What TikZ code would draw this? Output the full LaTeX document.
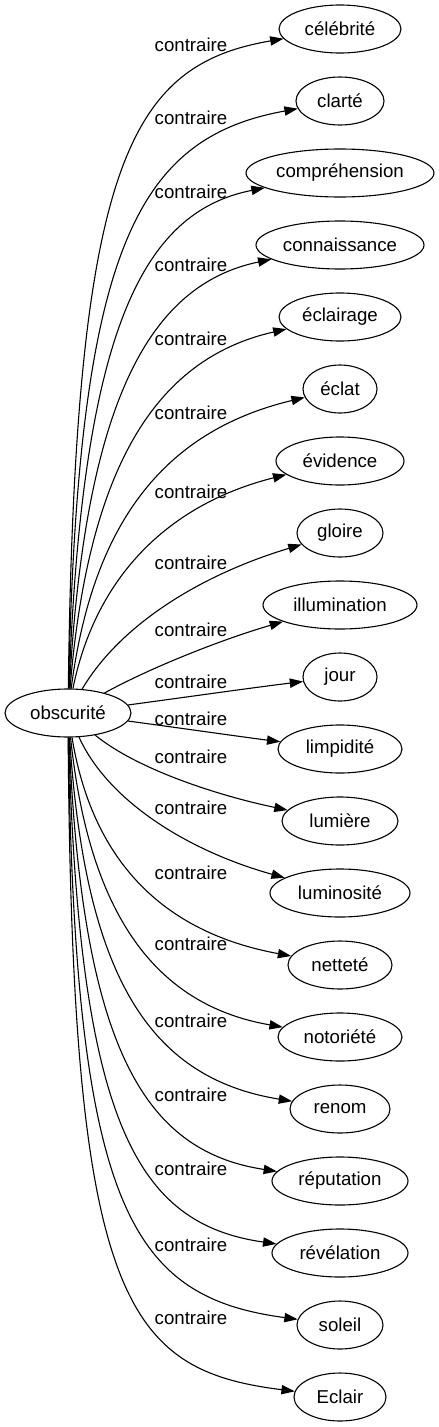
\documentclass[tikz,border=0pt]{standalone}
\usepackage{fontspec}
\setmainfont{Liberation Sans}
\usetikzlibrary{shapes.geometric,arrows.meta}
\tikzset{
  word/.style={draw, ellipse, line width=1.1pt, inner sep=0pt, minimum height=48pt, font=\fontsize{18.67}{20}\selectfont},
  lbl/.style={inner sep=0pt, font=\fontsize{18.67}{20}\selectfont},
  edge/.style={draw, line width=1.1pt, -{Triangle[length=13.3pt,width=9.3pt]}}
}
\begin{document}
\begin{tikzpicture}[x=1pt,y=-1pt]
\useasboundingbox (0,0) rectangle (439,1427);
\node[word, minimum width=126pt] (o) at (68,713) {obscurité};
\foreach \n/\ty/\rx/\txt/\ly/\ax/\ay/\bx/\by in {
  t1/29/61/célébrité/45/75/161/130/65,
  t2/101/44/clarté/118/78/250/136/138,
  t3/173/94/compréhension/192/82/331/142/212,
  t4/245/84/connaissance/265/85/404/148/285,
  t5/317/61/éclairage/339/88/470/154/359,
  t6/389/37/éclat/413/92/528/160/432,
  t7/461/64/évidence/492/95/579/166/505,
  t8/533/43/gloire/563/120/625/200/575,
  t9/605/77/illumination/630/150/668/220/640,
  t10/677/37/jour/682/180/698/250/688,
  t11/749/62/limpidité/719/180/728/250/738,
  t12/821/58/lumière/757/138/770/220/796,
  t13/893/70/luminosité/808/110/805/195/853,
  t14/965/52/netteté/873/92/859/161/932,
  t15/1037/62/notoriété/944/89/914/155/1005,
  t16/1109/50/renom/1021/85/976/149/1078,
  t17/1181/68/réputation/1095/82/1046/143/1151,
  t18/1253/68/révélation/1169/79/1124/137/1224,
  t19/1325/43/soleil/1245/75/1209/131/1297,
  t20/1397/46/Eclair/1318/72/1301/125/1370}{
  \node[word, minimum width=2*\rx pt] (\n) at (340,\ty) {\txt};
  \node[lbl] (l\n) at (191,\ly) {contraire};
  \draw[edge] (o) .. controls (\ax,\ay) and (\bx,\by) .. (\n);
}
\end{tikzpicture}
\end{document}
